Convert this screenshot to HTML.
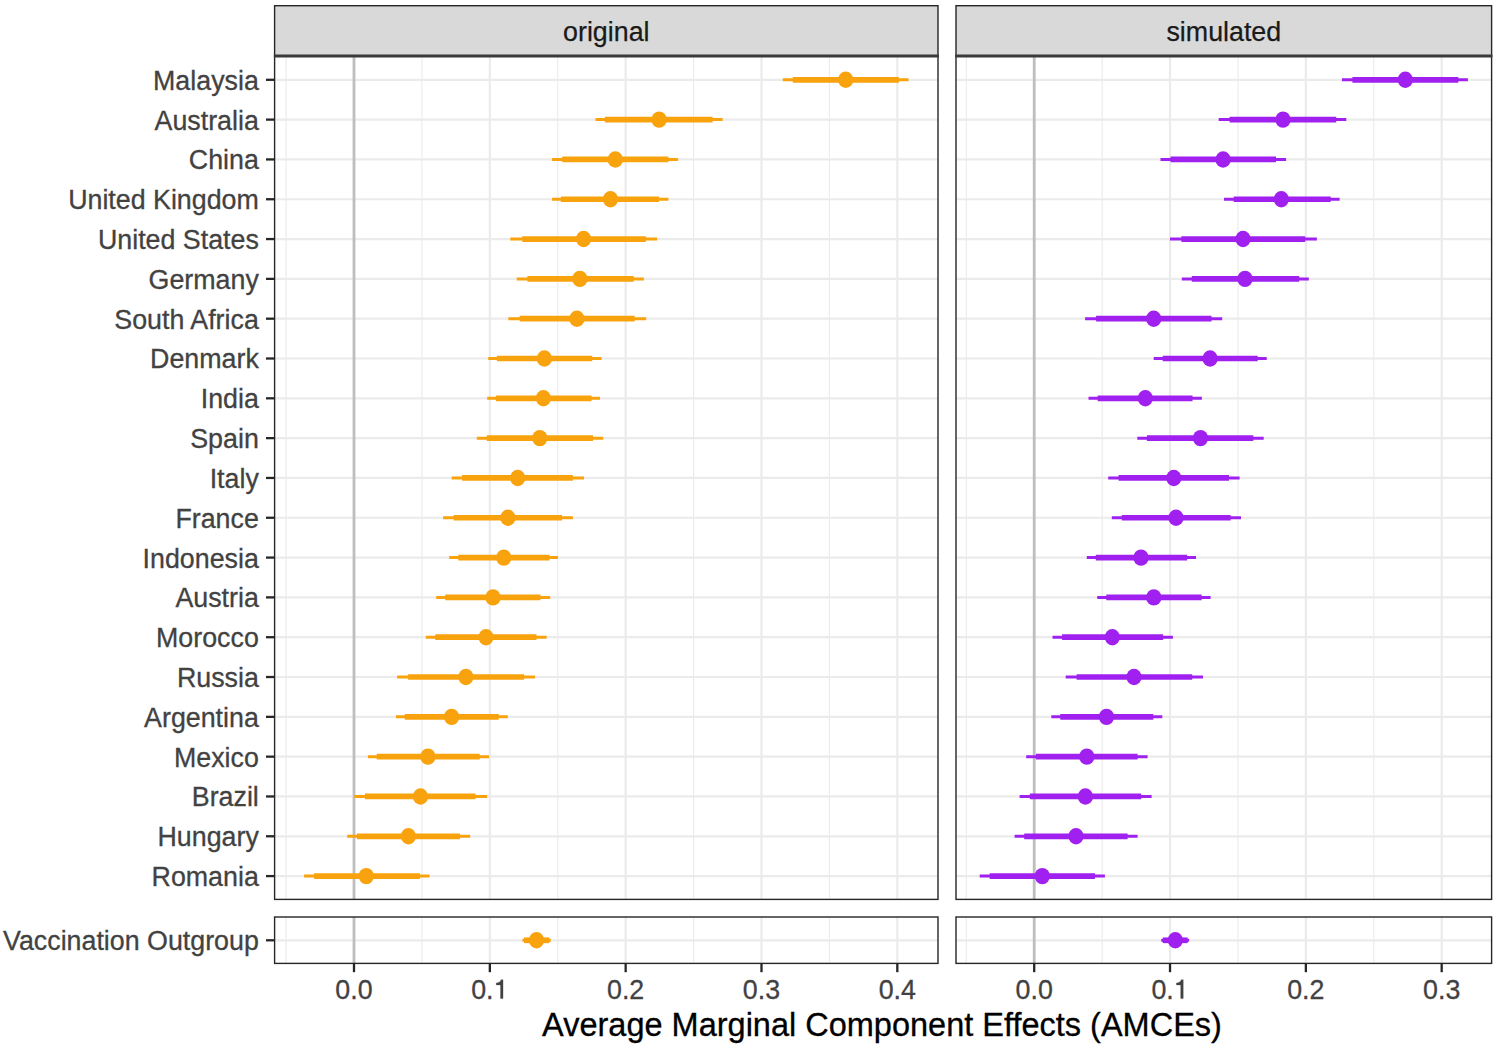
<!DOCTYPE html>
<html><head><meta charset="utf-8"><style>
html,body{margin:0;padding:0;background:#fff;}
body{width:1495px;height:1045px;overflow:hidden;}
svg{display:block;}
text{font-family:"Liberation Sans",sans-serif;}
.ax{font-size:26.8px;fill:#424242;stroke:#424242;stroke-width:0.3px;}
.st{font-size:26.8px;fill:#1A1A1A;stroke:#1A1A1A;stroke-width:0.25px;}
.tt{font-size:32.5px;fill:#000;stroke:#000;stroke-width:0.3px;}
</style></head><body>
<svg width="1495" height="1045" viewBox="0 0 1495 1045">
<rect width="1495" height="1045" fill="#fff"/>
<rect x="274.6" y="5.7" width="663.4" height="50.3" fill="#D9D9D9" stroke="#262626" stroke-width="1.4"/>
<text x="606.3" y="40.7" text-anchor="middle" class="st">original</text>
<rect x="956" y="5.7" width="535.6" height="50.3" fill="#D9D9D9" stroke="#262626" stroke-width="1.4"/>
<text x="1223.8" y="40.7" text-anchor="middle" class="st">simulated</text>
<line x1="286.08" y1="56" x2="286.08" y2="899.4" stroke="#EBEBEB" stroke-width="1.1"/>
<line x1="421.92" y1="56" x2="421.92" y2="899.4" stroke="#EBEBEB" stroke-width="1.1"/>
<line x1="557.75" y1="56" x2="557.75" y2="899.4" stroke="#EBEBEB" stroke-width="1.1"/>
<line x1="693.58" y1="56" x2="693.58" y2="899.4" stroke="#EBEBEB" stroke-width="1.1"/>
<line x1="829.4" y1="56" x2="829.4" y2="899.4" stroke="#EBEBEB" stroke-width="1.1"/>
<line x1="354" y1="56" x2="354" y2="899.4" stroke="#EBEBEB" stroke-width="2.2"/>
<line x1="489.83" y1="56" x2="489.83" y2="899.4" stroke="#EBEBEB" stroke-width="2.2"/>
<line x1="625.66" y1="56" x2="625.66" y2="899.4" stroke="#EBEBEB" stroke-width="2.2"/>
<line x1="761.49" y1="56" x2="761.49" y2="899.4" stroke="#EBEBEB" stroke-width="2.2"/>
<line x1="897.32" y1="56" x2="897.32" y2="899.4" stroke="#EBEBEB" stroke-width="2.2"/>
<line x1="274.6" y1="79.8" x2="938" y2="79.8" stroke="#EBEBEB" stroke-width="2.2"/>
<line x1="274.6" y1="119.61" x2="938" y2="119.61" stroke="#EBEBEB" stroke-width="2.2"/>
<line x1="274.6" y1="159.43" x2="938" y2="159.43" stroke="#EBEBEB" stroke-width="2.2"/>
<line x1="274.6" y1="199.25" x2="938" y2="199.25" stroke="#EBEBEB" stroke-width="2.2"/>
<line x1="274.6" y1="239.06" x2="938" y2="239.06" stroke="#EBEBEB" stroke-width="2.2"/>
<line x1="274.6" y1="278.88" x2="938" y2="278.88" stroke="#EBEBEB" stroke-width="2.2"/>
<line x1="274.6" y1="318.69" x2="938" y2="318.69" stroke="#EBEBEB" stroke-width="2.2"/>
<line x1="274.6" y1="358.5" x2="938" y2="358.5" stroke="#EBEBEB" stroke-width="2.2"/>
<line x1="274.6" y1="398.32" x2="938" y2="398.32" stroke="#EBEBEB" stroke-width="2.2"/>
<line x1="274.6" y1="438.13" x2="938" y2="438.13" stroke="#EBEBEB" stroke-width="2.2"/>
<line x1="274.6" y1="477.95" x2="938" y2="477.95" stroke="#EBEBEB" stroke-width="2.2"/>
<line x1="274.6" y1="517.76" x2="938" y2="517.76" stroke="#EBEBEB" stroke-width="2.2"/>
<line x1="274.6" y1="557.58" x2="938" y2="557.58" stroke="#EBEBEB" stroke-width="2.2"/>
<line x1="274.6" y1="597.39" x2="938" y2="597.39" stroke="#EBEBEB" stroke-width="2.2"/>
<line x1="274.6" y1="637.21" x2="938" y2="637.21" stroke="#EBEBEB" stroke-width="2.2"/>
<line x1="274.6" y1="677.02" x2="938" y2="677.02" stroke="#EBEBEB" stroke-width="2.2"/>
<line x1="274.6" y1="716.84" x2="938" y2="716.84" stroke="#EBEBEB" stroke-width="2.2"/>
<line x1="274.6" y1="756.65" x2="938" y2="756.65" stroke="#EBEBEB" stroke-width="2.2"/>
<line x1="274.6" y1="796.47" x2="938" y2="796.47" stroke="#EBEBEB" stroke-width="2.2"/>
<line x1="274.6" y1="836.28" x2="938" y2="836.28" stroke="#EBEBEB" stroke-width="2.2"/>
<line x1="274.6" y1="876.1" x2="938" y2="876.1" stroke="#EBEBEB" stroke-width="2.2"/>
<line x1="354" y1="56" x2="354" y2="899.4" stroke="#BEBEBE" stroke-width="2.8"/>
<line x1="782.8" y1="79.8" x2="908.5" y2="79.8" stroke="#F8A30E" stroke-width="3"/>
<line x1="792.8" y1="79.8" x2="898.9" y2="79.8" stroke="#F8A30E" stroke-width="5.7"/>
<ellipse cx="845.7" cy="79.8" rx="7.65" ry="8.2" fill="#F8A30E"/>
<line x1="595.5" y1="119.61" x2="722.6" y2="119.61" stroke="#F8A30E" stroke-width="3"/>
<line x1="604.9" y1="119.61" x2="712.6" y2="119.61" stroke="#F8A30E" stroke-width="5.7"/>
<ellipse cx="659.1" cy="119.61" rx="7.65" ry="8.2" fill="#F8A30E"/>
<line x1="552" y1="159.43" x2="678.1" y2="159.43" stroke="#F8A30E" stroke-width="3"/>
<line x1="562.2" y1="159.43" x2="668.4" y2="159.43" stroke="#F8A30E" stroke-width="5.7"/>
<ellipse cx="615.3" cy="159.43" rx="7.65" ry="8.2" fill="#F8A30E"/>
<line x1="552" y1="199.25" x2="668.4" y2="199.25" stroke="#F8A30E" stroke-width="3"/>
<line x1="560.9" y1="199.25" x2="659" y2="199.25" stroke="#F8A30E" stroke-width="5.7"/>
<ellipse cx="610.5" cy="199.25" rx="7.65" ry="8.2" fill="#F8A30E"/>
<line x1="510.3" y1="239.06" x2="657.2" y2="239.06" stroke="#F8A30E" stroke-width="3"/>
<line x1="522.3" y1="239.06" x2="645.8" y2="239.06" stroke="#F8A30E" stroke-width="5.7"/>
<ellipse cx="583.6" cy="239.06" rx="7.65" ry="8.2" fill="#F8A30E"/>
<line x1="516.7" y1="278.88" x2="643.8" y2="278.88" stroke="#F8A30E" stroke-width="3"/>
<line x1="527.4" y1="278.88" x2="633.7" y2="278.88" stroke="#F8A30E" stroke-width="5.7"/>
<ellipse cx="579.9" cy="278.88" rx="7.65" ry="8.2" fill="#F8A30E"/>
<line x1="508.3" y1="318.69" x2="646.2" y2="318.69" stroke="#F8A30E" stroke-width="3"/>
<line x1="519.7" y1="318.69" x2="634.7" y2="318.69" stroke="#F8A30E" stroke-width="5.7"/>
<ellipse cx="576.9" cy="318.69" rx="7.65" ry="8.2" fill="#F8A30E"/>
<line x1="488.2" y1="358.5" x2="601.6" y2="358.5" stroke="#F8A30E" stroke-width="3"/>
<line x1="496.9" y1="358.5" x2="592.2" y2="358.5" stroke="#F8A30E" stroke-width="5.7"/>
<ellipse cx="544.4" cy="358.5" rx="7.65" ry="8.2" fill="#F8A30E"/>
<line x1="487.2" y1="398.32" x2="600" y2="398.32" stroke="#F8A30E" stroke-width="3"/>
<line x1="495.9" y1="398.32" x2="591.6" y2="398.32" stroke="#F8A30E" stroke-width="5.7"/>
<ellipse cx="543.4" cy="398.32" rx="7.65" ry="8.2" fill="#F8A30E"/>
<line x1="476.8" y1="438.13" x2="603.2" y2="438.13" stroke="#F8A30E" stroke-width="3"/>
<line x1="486.8" y1="438.13" x2="593" y2="438.13" stroke="#F8A30E" stroke-width="5.7"/>
<ellipse cx="539.8" cy="438.13" rx="7.65" ry="8.2" fill="#F8A30E"/>
<line x1="451.7" y1="477.95" x2="584" y2="477.95" stroke="#F8A30E" stroke-width="3"/>
<line x1="462.1" y1="477.95" x2="572.9" y2="477.95" stroke="#F8A30E" stroke-width="5.7"/>
<ellipse cx="517.7" cy="477.95" rx="7.65" ry="8.2" fill="#F8A30E"/>
<line x1="443.1" y1="517.76" x2="572.9" y2="517.76" stroke="#F8A30E" stroke-width="3"/>
<line x1="453.7" y1="517.76" x2="562.1" y2="517.76" stroke="#F8A30E" stroke-width="5.7"/>
<ellipse cx="507.9" cy="517.76" rx="7.65" ry="8.2" fill="#F8A30E"/>
<line x1="449.2" y1="557.58" x2="558" y2="557.58" stroke="#F8A30E" stroke-width="3"/>
<line x1="458.3" y1="557.58" x2="549.6" y2="557.58" stroke="#F8A30E" stroke-width="5.7"/>
<ellipse cx="503.8" cy="557.58" rx="7.65" ry="8.2" fill="#F8A30E"/>
<line x1="436.2" y1="597.39" x2="550.2" y2="597.39" stroke="#F8A30E" stroke-width="3"/>
<line x1="445.2" y1="597.39" x2="540.5" y2="597.39" stroke="#F8A30E" stroke-width="5.7"/>
<ellipse cx="493" cy="597.39" rx="7.65" ry="8.2" fill="#F8A30E"/>
<line x1="425.8" y1="637.21" x2="546.6" y2="637.21" stroke="#F8A30E" stroke-width="3"/>
<line x1="435.2" y1="637.21" x2="536.5" y2="637.21" stroke="#F8A30E" stroke-width="5.7"/>
<ellipse cx="486" cy="637.21" rx="7.65" ry="8.2" fill="#F8A30E"/>
<line x1="397.1" y1="677.02" x2="535.1" y2="677.02" stroke="#F8A30E" stroke-width="3"/>
<line x1="408.1" y1="677.02" x2="524.1" y2="677.02" stroke="#F8A30E" stroke-width="5.7"/>
<ellipse cx="465.9" cy="677.02" rx="7.65" ry="8.2" fill="#F8A30E"/>
<line x1="396" y1="716.84" x2="507.8" y2="716.84" stroke="#F8A30E" stroke-width="3"/>
<line x1="404.8" y1="716.84" x2="498.7" y2="716.84" stroke="#F8A30E" stroke-width="5.7"/>
<ellipse cx="451.6" cy="716.84" rx="7.65" ry="8.2" fill="#F8A30E"/>
<line x1="367.9" y1="756.65" x2="489.1" y2="756.65" stroke="#F8A30E" stroke-width="3"/>
<line x1="376.7" y1="756.65" x2="479.7" y2="756.65" stroke="#F8A30E" stroke-width="5.7"/>
<ellipse cx="427.9" cy="756.65" rx="7.65" ry="8.2" fill="#F8A30E"/>
<line x1="354.3" y1="796.47" x2="487.1" y2="796.47" stroke="#F8A30E" stroke-width="3"/>
<line x1="364.9" y1="796.47" x2="475.5" y2="796.47" stroke="#F8A30E" stroke-width="5.7"/>
<ellipse cx="420.5" cy="796.47" rx="7.65" ry="8.2" fill="#F8A30E"/>
<line x1="347.2" y1="836.28" x2="470.2" y2="836.28" stroke="#F8A30E" stroke-width="3"/>
<line x1="357" y1="836.28" x2="460" y2="836.28" stroke="#F8A30E" stroke-width="5.7"/>
<ellipse cx="408.4" cy="836.28" rx="7.65" ry="8.2" fill="#F8A30E"/>
<line x1="304.1" y1="876.1" x2="429.5" y2="876.1" stroke="#F8A30E" stroke-width="3"/>
<line x1="314.1" y1="876.1" x2="419.9" y2="876.1" stroke="#F8A30E" stroke-width="5.7"/>
<ellipse cx="366.3" cy="876.1" rx="7.65" ry="8.2" fill="#F8A30E"/>
<rect x="274.6" y="56" width="663.4" height="843.4" fill="none" stroke="#262626" stroke-width="1.4"/>
<line x1="966.29" y1="56" x2="966.29" y2="899.4" stroke="#EBEBEB" stroke-width="1.1"/>
<line x1="1102.12" y1="56" x2="1102.12" y2="899.4" stroke="#EBEBEB" stroke-width="1.1"/>
<line x1="1237.94" y1="56" x2="1237.94" y2="899.4" stroke="#EBEBEB" stroke-width="1.1"/>
<line x1="1373.78" y1="56" x2="1373.78" y2="899.4" stroke="#EBEBEB" stroke-width="1.1"/>
<line x1="1034.2" y1="56" x2="1034.2" y2="899.4" stroke="#EBEBEB" stroke-width="2.2"/>
<line x1="1170.03" y1="56" x2="1170.03" y2="899.4" stroke="#EBEBEB" stroke-width="2.2"/>
<line x1="1305.86" y1="56" x2="1305.86" y2="899.4" stroke="#EBEBEB" stroke-width="2.2"/>
<line x1="1441.69" y1="56" x2="1441.69" y2="899.4" stroke="#EBEBEB" stroke-width="2.2"/>
<line x1="956" y1="79.8" x2="1491.6" y2="79.8" stroke="#EBEBEB" stroke-width="2.2"/>
<line x1="956" y1="119.61" x2="1491.6" y2="119.61" stroke="#EBEBEB" stroke-width="2.2"/>
<line x1="956" y1="159.43" x2="1491.6" y2="159.43" stroke="#EBEBEB" stroke-width="2.2"/>
<line x1="956" y1="199.25" x2="1491.6" y2="199.25" stroke="#EBEBEB" stroke-width="2.2"/>
<line x1="956" y1="239.06" x2="1491.6" y2="239.06" stroke="#EBEBEB" stroke-width="2.2"/>
<line x1="956" y1="278.88" x2="1491.6" y2="278.88" stroke="#EBEBEB" stroke-width="2.2"/>
<line x1="956" y1="318.69" x2="1491.6" y2="318.69" stroke="#EBEBEB" stroke-width="2.2"/>
<line x1="956" y1="358.5" x2="1491.6" y2="358.5" stroke="#EBEBEB" stroke-width="2.2"/>
<line x1="956" y1="398.32" x2="1491.6" y2="398.32" stroke="#EBEBEB" stroke-width="2.2"/>
<line x1="956" y1="438.13" x2="1491.6" y2="438.13" stroke="#EBEBEB" stroke-width="2.2"/>
<line x1="956" y1="477.95" x2="1491.6" y2="477.95" stroke="#EBEBEB" stroke-width="2.2"/>
<line x1="956" y1="517.76" x2="1491.6" y2="517.76" stroke="#EBEBEB" stroke-width="2.2"/>
<line x1="956" y1="557.58" x2="1491.6" y2="557.58" stroke="#EBEBEB" stroke-width="2.2"/>
<line x1="956" y1="597.39" x2="1491.6" y2="597.39" stroke="#EBEBEB" stroke-width="2.2"/>
<line x1="956" y1="637.21" x2="1491.6" y2="637.21" stroke="#EBEBEB" stroke-width="2.2"/>
<line x1="956" y1="677.02" x2="1491.6" y2="677.02" stroke="#EBEBEB" stroke-width="2.2"/>
<line x1="956" y1="716.84" x2="1491.6" y2="716.84" stroke="#EBEBEB" stroke-width="2.2"/>
<line x1="956" y1="756.65" x2="1491.6" y2="756.65" stroke="#EBEBEB" stroke-width="2.2"/>
<line x1="956" y1="796.47" x2="1491.6" y2="796.47" stroke="#EBEBEB" stroke-width="2.2"/>
<line x1="956" y1="836.28" x2="1491.6" y2="836.28" stroke="#EBEBEB" stroke-width="2.2"/>
<line x1="956" y1="876.1" x2="1491.6" y2="876.1" stroke="#EBEBEB" stroke-width="2.2"/>
<line x1="1034.2" y1="56" x2="1034.2" y2="899.4" stroke="#BEBEBE" stroke-width="2.8"/>
<line x1="1342" y1="79.8" x2="1467.9" y2="79.8" stroke="#A020F0" stroke-width="3"/>
<line x1="1352.4" y1="79.8" x2="1458.3" y2="79.8" stroke="#A020F0" stroke-width="5.7"/>
<ellipse cx="1405.3" cy="79.8" rx="7.65" ry="8.2" fill="#A020F0"/>
<line x1="1218.7" y1="119.61" x2="1346.3" y2="119.61" stroke="#A020F0" stroke-width="3"/>
<line x1="1229.6" y1="119.61" x2="1336.2" y2="119.61" stroke="#A020F0" stroke-width="5.7"/>
<ellipse cx="1283" cy="119.61" rx="7.65" ry="8.2" fill="#A020F0"/>
<line x1="1160.5" y1="159.43" x2="1286.1" y2="159.43" stroke="#A020F0" stroke-width="3"/>
<line x1="1170.6" y1="159.43" x2="1276" y2="159.43" stroke="#A020F0" stroke-width="5.7"/>
<ellipse cx="1223.1" cy="159.43" rx="7.65" ry="8.2" fill="#A020F0"/>
<line x1="1224" y1="199.25" x2="1339.6" y2="199.25" stroke="#A020F0" stroke-width="3"/>
<line x1="1233.7" y1="199.25" x2="1330.7" y2="199.25" stroke="#A020F0" stroke-width="5.7"/>
<ellipse cx="1281.3" cy="199.25" rx="7.65" ry="8.2" fill="#A020F0"/>
<line x1="1170" y1="239.06" x2="1316.9" y2="239.06" stroke="#A020F0" stroke-width="3"/>
<line x1="1181.4" y1="239.06" x2="1305.2" y2="239.06" stroke="#A020F0" stroke-width="5.7"/>
<ellipse cx="1243" cy="239.06" rx="7.65" ry="8.2" fill="#A020F0"/>
<line x1="1181.8" y1="278.88" x2="1308.8" y2="278.88" stroke="#A020F0" stroke-width="3"/>
<line x1="1191.8" y1="278.88" x2="1299.2" y2="278.88" stroke="#A020F0" stroke-width="5.7"/>
<ellipse cx="1245" cy="278.88" rx="7.65" ry="8.2" fill="#A020F0"/>
<line x1="1085.1" y1="318.69" x2="1222.2" y2="318.69" stroke="#A020F0" stroke-width="3"/>
<line x1="1096.1" y1="318.69" x2="1211.5" y2="318.69" stroke="#A020F0" stroke-width="5.7"/>
<ellipse cx="1153.7" cy="318.69" rx="7.65" ry="8.2" fill="#A020F0"/>
<line x1="1153.7" y1="358.5" x2="1266.7" y2="358.5" stroke="#A020F0" stroke-width="3"/>
<line x1="1162.7" y1="358.5" x2="1257.7" y2="358.5" stroke="#A020F0" stroke-width="5.7"/>
<ellipse cx="1210.1" cy="358.5" rx="7.65" ry="8.2" fill="#A020F0"/>
<line x1="1088.5" y1="398.32" x2="1201.9" y2="398.32" stroke="#A020F0" stroke-width="3"/>
<line x1="1097.7" y1="398.32" x2="1192.5" y2="398.32" stroke="#A020F0" stroke-width="5.7"/>
<ellipse cx="1145.3" cy="398.32" rx="7.65" ry="8.2" fill="#A020F0"/>
<line x1="1137.3" y1="438.13" x2="1263.7" y2="438.13" stroke="#A020F0" stroke-width="3"/>
<line x1="1146.9" y1="438.13" x2="1253.3" y2="438.13" stroke="#A020F0" stroke-width="5.7"/>
<ellipse cx="1200.5" cy="438.13" rx="7.65" ry="8.2" fill="#A020F0"/>
<line x1="1108.2" y1="477.95" x2="1239.6" y2="477.95" stroke="#A020F0" stroke-width="3"/>
<line x1="1118.6" y1="477.95" x2="1229" y2="477.95" stroke="#A020F0" stroke-width="5.7"/>
<ellipse cx="1173.8" cy="477.95" rx="7.65" ry="8.2" fill="#A020F0"/>
<line x1="1111.8" y1="517.76" x2="1241" y2="517.76" stroke="#A020F0" stroke-width="3"/>
<line x1="1121.8" y1="517.76" x2="1230.6" y2="517.76" stroke="#A020F0" stroke-width="5.7"/>
<ellipse cx="1176" cy="517.76" rx="7.65" ry="8.2" fill="#A020F0"/>
<line x1="1086.8" y1="557.58" x2="1196" y2="557.58" stroke="#A020F0" stroke-width="3"/>
<line x1="1095.8" y1="557.58" x2="1187.1" y2="557.58" stroke="#A020F0" stroke-width="5.7"/>
<ellipse cx="1141" cy="557.58" rx="7.65" ry="8.2" fill="#A020F0"/>
<line x1="1097.2" y1="597.39" x2="1210.6" y2="597.39" stroke="#A020F0" stroke-width="3"/>
<line x1="1106.3" y1="597.39" x2="1201.6" y2="597.39" stroke="#A020F0" stroke-width="5.7"/>
<ellipse cx="1153.8" cy="597.39" rx="7.65" ry="8.2" fill="#A020F0"/>
<line x1="1052.5" y1="637.21" x2="1172.9" y2="637.21" stroke="#A020F0" stroke-width="3"/>
<line x1="1062.1" y1="637.21" x2="1163.1" y2="637.21" stroke="#A020F0" stroke-width="5.7"/>
<ellipse cx="1112.3" cy="637.21" rx="7.65" ry="8.2" fill="#A020F0"/>
<line x1="1065.7" y1="677.02" x2="1203" y2="677.02" stroke="#A020F0" stroke-width="3"/>
<line x1="1076.6" y1="677.02" x2="1192.2" y2="677.02" stroke="#A020F0" stroke-width="5.7"/>
<ellipse cx="1134" cy="677.02" rx="7.65" ry="8.2" fill="#A020F0"/>
<line x1="1051.3" y1="716.84" x2="1162.3" y2="716.84" stroke="#A020F0" stroke-width="3"/>
<line x1="1060.3" y1="716.84" x2="1153.3" y2="716.84" stroke="#A020F0" stroke-width="5.7"/>
<ellipse cx="1106.5" cy="716.84" rx="7.65" ry="8.2" fill="#A020F0"/>
<line x1="1026.2" y1="756.65" x2="1147.6" y2="756.65" stroke="#A020F0" stroke-width="3"/>
<line x1="1035.9" y1="756.65" x2="1137.6" y2="756.65" stroke="#A020F0" stroke-width="5.7"/>
<ellipse cx="1086.8" cy="756.65" rx="7.65" ry="8.2" fill="#A020F0"/>
<line x1="1019.6" y1="796.47" x2="1151.6" y2="796.47" stroke="#A020F0" stroke-width="3"/>
<line x1="1029.8" y1="796.47" x2="1141.2" y2="796.47" stroke="#A020F0" stroke-width="5.7"/>
<ellipse cx="1085.4" cy="796.47" rx="7.65" ry="8.2" fill="#A020F0"/>
<line x1="1014.6" y1="836.28" x2="1137.6" y2="836.28" stroke="#A020F0" stroke-width="3"/>
<line x1="1024.2" y1="836.28" x2="1127.6" y2="836.28" stroke="#A020F0" stroke-width="5.7"/>
<ellipse cx="1076" cy="836.28" rx="7.65" ry="8.2" fill="#A020F0"/>
<line x1="979.7" y1="876.1" x2="1104.9" y2="876.1" stroke="#A020F0" stroke-width="3"/>
<line x1="989.7" y1="876.1" x2="1094.9" y2="876.1" stroke="#A020F0" stroke-width="5.7"/>
<ellipse cx="1042.3" cy="876.1" rx="7.65" ry="8.2" fill="#A020F0"/>
<rect x="956" y="56" width="535.6" height="843.4" fill="none" stroke="#262626" stroke-width="1.4"/>
<line x1="286.08" y1="917" x2="286.08" y2="963.4" stroke="#EBEBEB" stroke-width="1.1"/>
<line x1="421.92" y1="917" x2="421.92" y2="963.4" stroke="#EBEBEB" stroke-width="1.1"/>
<line x1="557.75" y1="917" x2="557.75" y2="963.4" stroke="#EBEBEB" stroke-width="1.1"/>
<line x1="693.58" y1="917" x2="693.58" y2="963.4" stroke="#EBEBEB" stroke-width="1.1"/>
<line x1="829.4" y1="917" x2="829.4" y2="963.4" stroke="#EBEBEB" stroke-width="1.1"/>
<line x1="354" y1="917" x2="354" y2="963.4" stroke="#EBEBEB" stroke-width="2.2"/>
<line x1="489.83" y1="917" x2="489.83" y2="963.4" stroke="#EBEBEB" stroke-width="2.2"/>
<line x1="625.66" y1="917" x2="625.66" y2="963.4" stroke="#EBEBEB" stroke-width="2.2"/>
<line x1="761.49" y1="917" x2="761.49" y2="963.4" stroke="#EBEBEB" stroke-width="2.2"/>
<line x1="897.32" y1="917" x2="897.32" y2="963.4" stroke="#EBEBEB" stroke-width="2.2"/>
<line x1="274.6" y1="940.3" x2="938" y2="940.3" stroke="#EBEBEB" stroke-width="2.2"/>
<line x1="354" y1="917" x2="354" y2="963.4" stroke="#BEBEBE" stroke-width="2.8"/>
<line x1="522.5" y1="940.3" x2="550.8" y2="940.3" stroke="#F8A30E" stroke-width="3"/>
<line x1="524" y1="940.3" x2="549.3" y2="940.3" stroke="#F8A30E" stroke-width="5.7"/>
<ellipse cx="536.5" cy="940.3" rx="7.65" ry="8.2" fill="#F8A30E"/>
<rect x="274.6" y="917" width="663.4" height="46.4" fill="none" stroke="#262626" stroke-width="1.4"/>
<line x1="966.29" y1="917" x2="966.29" y2="963.4" stroke="#EBEBEB" stroke-width="1.1"/>
<line x1="1102.12" y1="917" x2="1102.12" y2="963.4" stroke="#EBEBEB" stroke-width="1.1"/>
<line x1="1237.94" y1="917" x2="1237.94" y2="963.4" stroke="#EBEBEB" stroke-width="1.1"/>
<line x1="1373.78" y1="917" x2="1373.78" y2="963.4" stroke="#EBEBEB" stroke-width="1.1"/>
<line x1="1034.2" y1="917" x2="1034.2" y2="963.4" stroke="#EBEBEB" stroke-width="2.2"/>
<line x1="1170.03" y1="917" x2="1170.03" y2="963.4" stroke="#EBEBEB" stroke-width="2.2"/>
<line x1="1305.86" y1="917" x2="1305.86" y2="963.4" stroke="#EBEBEB" stroke-width="2.2"/>
<line x1="1441.69" y1="917" x2="1441.69" y2="963.4" stroke="#EBEBEB" stroke-width="2.2"/>
<line x1="956" y1="940.3" x2="1491.6" y2="940.3" stroke="#EBEBEB" stroke-width="2.2"/>
<line x1="1034.2" y1="917" x2="1034.2" y2="963.4" stroke="#BEBEBE" stroke-width="2.8"/>
<line x1="1161.2" y1="940.3" x2="1189.1" y2="940.3" stroke="#A020F0" stroke-width="3"/>
<line x1="1162.8" y1="940.3" x2="1187.6" y2="940.3" stroke="#A020F0" stroke-width="5.7"/>
<ellipse cx="1175.3" cy="940.3" rx="7.65" ry="8.2" fill="#A020F0"/>
<rect x="956" y="917" width="535.6" height="46.4" fill="none" stroke="#262626" stroke-width="1.4"/>
<line x1="273.9" y1="56" x2="938.7" y2="56" stroke="#3a3a3a" stroke-width="3"/>
<line x1="955.3" y1="56" x2="1492.3" y2="56" stroke="#3a3a3a" stroke-width="3"/>
<line x1="266" y1="79.8" x2="274.6" y2="79.8" stroke="#262626" stroke-width="2.3"/>
<text x="258.8" y="89.75" text-anchor="end" class="ax">Malaysia</text>
<line x1="266" y1="119.61" x2="274.6" y2="119.61" stroke="#262626" stroke-width="2.3"/>
<text x="258.8" y="129.56" text-anchor="end" class="ax">Australia</text>
<line x1="266" y1="159.43" x2="274.6" y2="159.43" stroke="#262626" stroke-width="2.3"/>
<text x="258.8" y="169.38" text-anchor="end" class="ax">China</text>
<line x1="266" y1="199.25" x2="274.6" y2="199.25" stroke="#262626" stroke-width="2.3"/>
<text x="258.8" y="209.19" text-anchor="end" class="ax">United Kingdom</text>
<line x1="266" y1="239.06" x2="274.6" y2="239.06" stroke="#262626" stroke-width="2.3"/>
<text x="258.8" y="249.01" text-anchor="end" class="ax">United States</text>
<line x1="266" y1="278.88" x2="274.6" y2="278.88" stroke="#262626" stroke-width="2.3"/>
<text x="258.8" y="288.82" text-anchor="end" class="ax">Germany</text>
<line x1="266" y1="318.69" x2="274.6" y2="318.69" stroke="#262626" stroke-width="2.3"/>
<text x="258.8" y="328.64" text-anchor="end" class="ax">South Africa</text>
<line x1="266" y1="358.5" x2="274.6" y2="358.5" stroke="#262626" stroke-width="2.3"/>
<text x="258.8" y="368.45" text-anchor="end" class="ax">Denmark</text>
<line x1="266" y1="398.32" x2="274.6" y2="398.32" stroke="#262626" stroke-width="2.3"/>
<text x="258.8" y="408.27" text-anchor="end" class="ax">India</text>
<line x1="266" y1="438.13" x2="274.6" y2="438.13" stroke="#262626" stroke-width="2.3"/>
<text x="258.8" y="448.08" text-anchor="end" class="ax">Spain</text>
<line x1="266" y1="477.95" x2="274.6" y2="477.95" stroke="#262626" stroke-width="2.3"/>
<text x="258.8" y="487.9" text-anchor="end" class="ax">Italy</text>
<line x1="266" y1="517.76" x2="274.6" y2="517.76" stroke="#262626" stroke-width="2.3"/>
<text x="258.8" y="527.72" text-anchor="end" class="ax">France</text>
<line x1="266" y1="557.58" x2="274.6" y2="557.58" stroke="#262626" stroke-width="2.3"/>
<text x="258.8" y="567.53" text-anchor="end" class="ax">Indonesia</text>
<line x1="266" y1="597.39" x2="274.6" y2="597.39" stroke="#262626" stroke-width="2.3"/>
<text x="258.8" y="607.35" text-anchor="end" class="ax">Austria</text>
<line x1="266" y1="637.21" x2="274.6" y2="637.21" stroke="#262626" stroke-width="2.3"/>
<text x="258.8" y="647.16" text-anchor="end" class="ax">Morocco</text>
<line x1="266" y1="677.02" x2="274.6" y2="677.02" stroke="#262626" stroke-width="2.3"/>
<text x="258.8" y="686.97" text-anchor="end" class="ax">Russia</text>
<line x1="266" y1="716.84" x2="274.6" y2="716.84" stroke="#262626" stroke-width="2.3"/>
<text x="258.8" y="726.79" text-anchor="end" class="ax">Argentina</text>
<line x1="266" y1="756.65" x2="274.6" y2="756.65" stroke="#262626" stroke-width="2.3"/>
<text x="258.8" y="766.61" text-anchor="end" class="ax">Mexico</text>
<line x1="266" y1="796.47" x2="274.6" y2="796.47" stroke="#262626" stroke-width="2.3"/>
<text x="258.8" y="806.42" text-anchor="end" class="ax">Brazil</text>
<line x1="266" y1="836.28" x2="274.6" y2="836.28" stroke="#262626" stroke-width="2.3"/>
<text x="258.8" y="846.23" text-anchor="end" class="ax">Hungary</text>
<line x1="266" y1="876.1" x2="274.6" y2="876.1" stroke="#262626" stroke-width="2.3"/>
<text x="258.8" y="886.05" text-anchor="end" class="ax">Romania</text>
<line x1="266" y1="940.3" x2="274.6" y2="940.3" stroke="#262626" stroke-width="2.3"/>
<text x="258.8" y="950.25" text-anchor="end" class="ax">Vaccination Outgroup</text>
<line x1="354" y1="963.4" x2="354" y2="972.2" stroke="#262626" stroke-width="2.3"/>
<text x="354" y="998.6" text-anchor="middle" class="ax">0.0</text>
<line x1="489.83" y1="963.4" x2="489.83" y2="972.2" stroke="#262626" stroke-width="2.3"/>
<text x="471.2" y="998.6" class="ax">0.</text>
<path transform="translate(493.56,998.6) scale(0.0268,-0.0268)" d="M259 0L353 0L353 706L284 706C266 636 196 592 100 583L100 510L259 510Z" fill="#424242" stroke="#424242" stroke-width="11"/>
<line x1="625.66" y1="963.4" x2="625.66" y2="972.2" stroke="#262626" stroke-width="2.3"/>
<text x="625.66" y="998.6" text-anchor="middle" class="ax">0.2</text>
<line x1="761.49" y1="963.4" x2="761.49" y2="972.2" stroke="#262626" stroke-width="2.3"/>
<text x="761.49" y="998.6" text-anchor="middle" class="ax">0.3</text>
<line x1="897.32" y1="963.4" x2="897.32" y2="972.2" stroke="#262626" stroke-width="2.3"/>
<text x="897.32" y="998.6" text-anchor="middle" class="ax">0.4</text>
<line x1="1034.2" y1="963.4" x2="1034.2" y2="972.2" stroke="#262626" stroke-width="2.3"/>
<text x="1034.2" y="998.6" text-anchor="middle" class="ax">0.0</text>
<line x1="1170.03" y1="963.4" x2="1170.03" y2="972.2" stroke="#262626" stroke-width="2.3"/>
<text x="1151.4" y="998.6" class="ax">0.</text>
<path transform="translate(1173.76,998.6) scale(0.0268,-0.0268)" d="M259 0L353 0L353 706L284 706C266 636 196 592 100 583L100 510L259 510Z" fill="#424242" stroke="#424242" stroke-width="11"/>
<line x1="1305.86" y1="963.4" x2="1305.86" y2="972.2" stroke="#262626" stroke-width="2.3"/>
<text x="1305.86" y="998.6" text-anchor="middle" class="ax">0.2</text>
<line x1="1441.69" y1="963.4" x2="1441.69" y2="972.2" stroke="#262626" stroke-width="2.3"/>
<text x="1441.69" y="998.6" text-anchor="middle" class="ax">0.3</text>
<text x="882" y="1036.2" text-anchor="middle" class="tt">Average Marginal Component Effects (AMCEs)</text>
</svg>
</body></html>
